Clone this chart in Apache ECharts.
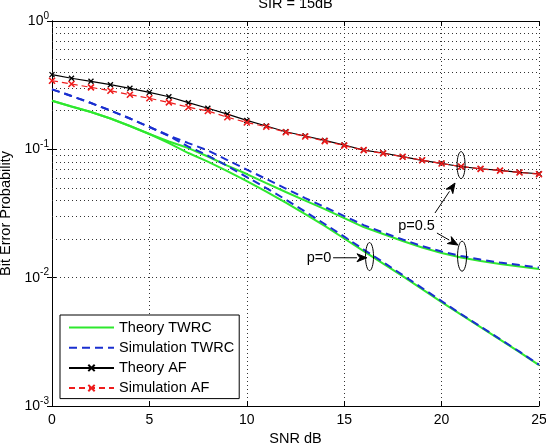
<!DOCTYPE html>
<html>
<head>
<meta charset="utf-8">
<script src="https://cdn.jsdelivr.net/npm/echarts@6/dist/echarts.min.js"></script>
<style>
  html, body { margin: 0; padding: 0; background: #fff; }
  #chart { width: 546px; height: 446px; }
</style>
</head>
<body>
<div id="chart"></div>
<script>
const FONT = "Liberation Sans";

const titleText = "SIR = 15dB";
const xName = "SNR dB";
const yName = "Bit Error Probability";
const legendNames = ["Theory TWRC", "Simulation TWRC", "Theory AF", "Simulation AF"];

const snrDb = [0, 1, 2, 3, 4, 5, 6, 7, 8, 9, 10, 11, 12, 13, 14, 15, 16, 17, 18, 19, 20, 21, 22, 23, 24, 25];

const theoryAF = [0.382, 0.358, 0.339, 0.319, 0.299, 0.278, 0.257, 0.231, 0.209, 0.188, 0.168, 0.152, 0.137,
  0.127, 0.1175, 0.108, 0.0987, 0.0936, 0.0876, 0.0821, 0.0778, 0.0732, 0.0706, 0.0686, 0.0662, 0.0645];
const simAF = [0.3425, 0.323, 0.304, 0.286, 0.2665, 0.25, 0.232, 0.213, 0.199, 0.178, 0.162, 0.15, 0.136,
  0.126, 0.116, 0.107, 0.0985, 0.093, 0.0875, 0.0822, 0.0775, 0.0735, 0.0705, 0.0683, 0.066, 0.064];

const theoryTwrcP05 = [0.2392, 0.2157, 0.1953, 0.1738, 0.1519, 0.1316, 0.115, 0.1023, 0.0879, 0.0747, 0.0642,
  0.0546, 0.0465, 0.0399, 0.0342, 0.0291, 0.0248, 0.0219, 0.0193, 0.01716, 0.01555, 0.01434, 0.01347, 0.01276,
  0.0122, 0.01167];
const theoryTwrcP0 = [0.2392, 0.2157, 0.1953, 0.1738, 0.1519, 0.1316, 0.1119, 0.0936, 0.0803, 0.0677, 0.0566,
  0.0469, 0.0385, 0.0313, 0.0253, 0.0202, 0.01612, 0.01288, 0.01029, 0.00815, 0.00645, 0.00516, 0.00412,
  0.00329, 0.00263, 0.00208];
const simTwrcP05 = [0.2935, 0.2603, 0.2295, 0.2006, 0.1738, 0.1492, 0.1281, 0.1119, 0.0979, 0.0825, 0.0696,
  0.0587, 0.0495, 0.0417, 0.0355, 0.0302, 0.0257, 0.02246, 0.01982, 0.01763, 0.01597, 0.01474, 0.01384,
  0.01311, 0.01253, 0.01199];
const simTwrcP0 = [0.2935, 0.2603, 0.2295, 0.2006, 0.1738, 0.1492, 0.127, 0.1051, 0.0895, 0.0741, 0.0608,
  0.0499, 0.0406, 0.0327, 0.0262, 0.0209, 0.01656, 0.01323, 0.01048, 0.0083, 0.00657, 0.0052, 0.00416,
  0.00332, 0.00265, 0.0021];

// minor (2..9) gridlines of each decade
const minorGrid = [0.002, 0.003, 0.004, 0.005, 0.006, 0.007, 0.008, 0.009,
  0.02, 0.03, 0.04, 0.05, 0.06, 0.07, 0.08, 0.09,
  0.2, 0.3, 0.4, 0.5, 0.6, 0.7, 0.8, 0.9];

// annotations, in data coordinates [snr, ber]
const ellipses = [
  { at: [21, 0.0754], rx: 4, ry: 13.5 },
  { at: [21.05, 0.0147], rx: 4.5, ry: 15 },
  { at: [16.3, 0.0146], rx: 4, ry: 14 },
];
const arrows = [
  { from: [19.66, 0.0319], to: [20.69, 0.0546] },
  { from: [19.76, 0.02227], to: [20.84, 0.01795] },
  { from: [14.43, 0.01429], to: [16.17, 0.01429] },
];
const notes = [
  { text: "p=0.5", at: [18.71, 0.02525] },
  { text: "p=0", at: [13.71, 0.01434] },
];

const pair = (ys) => snrDb.map((x, i) => [x, ys[i]]);
const xMark = "path://M0,0L10,10M10,0L0,10";
const clear = "rgba(0,0,0,0)";

const gridLine = { color: "#333", width: 1, type: [1, 3] };

const chart = echarts.init(document.getElementById("chart"), null, { renderer: "canvas" });

chart.setOption({
  animation: false,
  backgroundColor: "#fff",
  textStyle: { fontFamily: FONT },
  grid: { left: 52, right: 7, top: 21, bottom: 40, outerBoundsMode: "none", containLabel: false },
  legend: {
    data: legendNames,
    orient: "vertical",
    left: 60,
    top: 315,
    itemWidth: 45,
    itemHeight: 8,
    itemGap: 5.2,
    padding: [5, 5, 3, 8],
    backgroundColor: "#fff",
    borderColor: "#000",
    borderWidth: 1,
    borderRadius: 0,
    selectedMode: false,
    textStyle: { fontFamily: FONT, fontSize: 14.5, color: "#000", lineHeight: 15 },
  },
  xAxis: [
    {
      type: "value",
      min: 0,
      max: 25,
      interval: 5,
      name: xName,
      nameLocation: "middle",
      nameGap: 19,
      nameTextStyle: { fontFamily: FONT, fontSize: 14.5, color: "#000" },
      axisLine: { lineStyle: { color: "#000", width: 1 } },
      axisTick: { inside: true, length: 5, lineStyle: { color: "#000" } },
      axisLabel: { margin: 7, fontFamily: FONT, fontSize: 14, color: "#000" },
      splitLine: { show: true, lineStyle: gridLine },
    },
    {
      type: "value",
      position: "top",
      min: 0,
      max: 25,
      interval: 5,
      axisLine: { lineStyle: { color: "#000", width: 1 } },
      axisTick: { inside: true, length: 5, lineStyle: { color: "#000" } },
      axisLabel: { show: false },
      splitLine: { show: false },
    },
  ],
  yAxis: [
    {
      type: "log",
      logBase: 10,
      min: 0.001,
      max: 1,
      name: yName,
      nameLocation: "middle",
      nameRotate: 90,
      nameGap: 35,
      nameTextStyle: { fontFamily: FONT, fontSize: 14.5, color: "#000" },
      axisLine: { show: true, lineStyle: { color: "#000", width: 1 } },
      axisTick: { inside: true, length: 5, lineStyle: { color: "#000" } },
      axisLabel: {
        margin: 3,
        formatter: (v) => "{b|10}{s|" + Math.round(Math.log10(v)) + "}",
        rich: {
          b: { fontFamily: FONT, fontSize: 14, color: "#000" },
          s: { fontFamily: FONT, fontSize: 10, color: "#000", padding: [0, 0, 10, 0] },
        },
      },
      splitLine: { show: true, lineStyle: gridLine },
    },
    {
      type: "log",
      logBase: 10,
      position: "right",
      min: 0.001,
      max: 1,
      axisLine: { show: true, lineStyle: { color: "#000", width: 1 } },
      axisTick: { inside: true, length: 5, lineStyle: { color: "#000" } },
      axisLabel: { show: false },
      splitLine: { show: false },
    },
  ],
  series: [
    {
      name: "Theory TWRC",
      type: "line",
      data: pair(theoryTwrcP05),
      symbol: "circle",
      showSymbol: false,
      lineStyle: { color: "#2ee82e", width: 2 },
      itemStyle: { color: clear, borderWidth: 0 },
      z: 2,
      markLine: {
        silent: true,
        symbol: "none",
        label: { show: false },
        lineStyle: gridLine,
        data: minorGrid.map((v) => ({ yAxis: v })),
        z: 1,
      },
    },
    {
      name: "Theory TWRC",
      type: "line",
      data: pair(theoryTwrcP0),
      symbol: "circle",
      showSymbol: false,
      lineStyle: { color: "#2ee82e", width: 2 },
      itemStyle: { color: clear, borderWidth: 0 },
      z: 2,
    },
    {
      name: "Simulation TWRC",
      type: "line",
      data: pair(simTwrcP05),
      symbol: "circle",
      showSymbol: false,
      lineStyle: { color: "#1a2fd0", width: 2, type: [8, 5] },
      itemStyle: { color: clear, borderWidth: 0 },
      z: 3,
    },
    {
      name: "Simulation TWRC",
      type: "line",
      data: pair(simTwrcP0),
      symbol: "circle",
      showSymbol: false,
      lineStyle: { color: "#1a2fd0", width: 2, type: [8, 5] },
      itemStyle: { color: clear, borderWidth: 0 },
      z: 3,
    },
    {
      name: "Theory AF",
      type: "line",
      data: pair(theoryAF),
      symbol: xMark,
      symbolSize: 5,
      showAllSymbol: true,
      lineStyle: { color: "#000", width: 1.2 },
      itemStyle: { color: "#000", borderColor: "#000", borderWidth: 1.3 },
      z: 4,
    },
    {
      name: "Simulation AF",
      type: "line",
      data: pair(simAF),
      symbol: xMark,
      symbolSize: 6,
      showAllSymbol: true,
      lineStyle: { color: "#ee1c1c", width: 1.2, type: [6, 4] },
      itemStyle: { color: "#ee1c1c", borderColor: "#ee1c1c", borderWidth: 1.6 },
      z: 5,
    },
  ],
});

// title, ellipses, arrows and notes placed through the chart's own scales
function toPx(p) {
  return chart.convertToPixel({ gridIndex: 0 }, p);
}

const rect = chart.getModel().getComponent("grid").coordinateSystem.getRect();
const graphics = [];

graphics.push({
  type: "text",
  x: rect.x + rect.width / 2,
  y: 4,
  z: 10,
  style: { text: titleText, fill: "#000", font: "14.5px " + FONT, align: "center", verticalAlign: "middle" },
});

ellipses.forEach((e) => {
  const [cx, cy] = toPx(e.at);
  graphics.push({
    type: "ellipse",
    z: 10,
    shape: { cx, cy, rx: e.rx, ry: e.ry },
    style: { fill: null, stroke: "#000", lineWidth: 1 },
  });
});

arrows.forEach((a) => {
  const [x1, y1] = toPx(a.from);
  const [x2, y2] = toPx(a.to);
  const len = Math.hypot(x2 - x1, y2 - y1);
  const ux = (x2 - x1) / len, uy = (y2 - y1) / len;
  const head = 10, half = 4;
  const bx = x2 - ux * head, by = y2 - uy * head;
  graphics.push({
    type: "line",
    z: 10,
    shape: { x1, y1, x2: bx, y2: by },
    style: { stroke: "#000", lineWidth: 1 },
  });
  graphics.push({
    type: "polygon",
    z: 10,
    shape: { points: [[x2, y2], [bx - uy * half, by + ux * half], [bx + ux * 3, by + uy * 3], [bx + uy * half, by - ux * half]] },
    style: { fill: "#000", stroke: "#000", lineWidth: 1 },
  });
});

notes.forEach((n) => {
  const [x, y] = toPx(n.at);
  graphics.push({
    type: "text",
    x, y,
    z: 10,
    style: { text: n.text, fill: "#000", font: "14.5px " + FONT, align: "center", verticalAlign: "middle" },
  });
});

chart.setOption({ graphic: graphics });
</script>
</body>
</html>
